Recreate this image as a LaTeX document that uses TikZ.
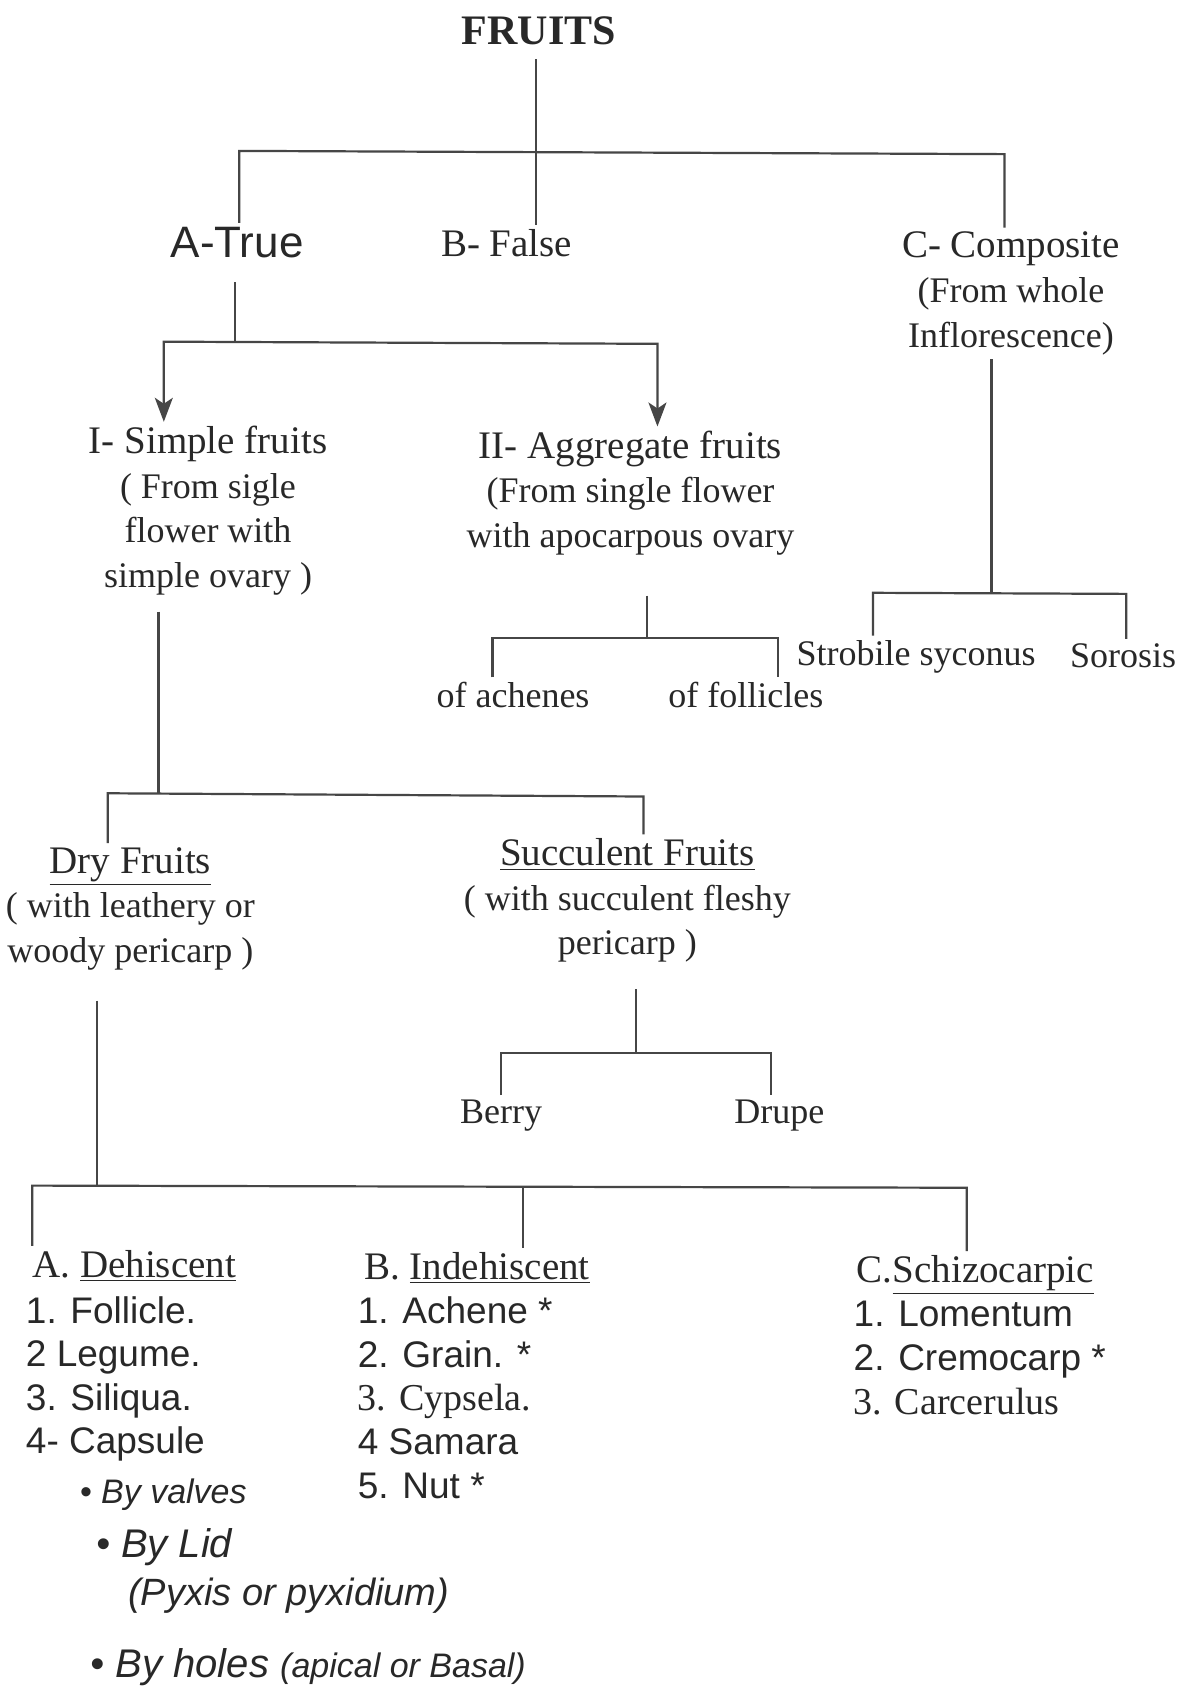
\documentclass[tikz,border=0pt]{standalone}
\usepackage{fontspec}
\setmainfont{Liberation Serif}
\newfontfamily\hw{Liberation Sans}
\usetikzlibrary{arrows.meta}
\definecolor{ink}{RGB}{40,40,40}
\definecolor{wire}{RGB}{70,70,70}
\newcommand{\hdfont}{\fontsize{19.5}{22.3}\selectfont}
\begin{document}
\begin{tikzpicture}[x=0.539pt,y=-0.539pt,
  every node/.style={inner sep=2pt, text=ink},
  link/.style={draw=wire, line width=1.1pt},
  tips/.style={link, {Stealth[length=12pt,width=9pt,inset=3pt]}-{Stealth[length=12pt,width=9pt,inset=3pt]}},
  head/.style={font=\fontsize{19.5}{22.3}\selectfont},
  body/.style={font=\fontsize{18}{22.3}\selectfont, align=center},
  hlist/.style={font=\hw\fontsize{18.5}{21.8}\selectfont, align=left},
  hnote/.style={font=\hw\itshape\fontsize{17}{20}\selectfont}
]
\useasboundingbox[fill=white] (0,0) rectangle (1102,1568);

% ---- nodes (multi-line nodes are placed by the baseline of their last line) ----
\node[anchor=base, font=\bfseries\fontsize{21}{24}\selectfont] (fruits) at (500,41) {FRUITS};
\node[anchor=base, font=\hw\fontsize{22}{26}\selectfont] (atrue) at (220,239) {A-True};
\node[anchor=base, head] (bfalse) at (470,238) {B- False};
\node[anchor=base, body] (ccomp) at (938,322) {{\hdfont C- Composite}\\(From whole\\Inflorescence)};

\node[anchor=base, body] (simple) at (193,545) {{\hdfont I- Simple fruits}\\( From sigle\\flower with\\simple ovary )};
\node[anchor=base, body] (aggr) at (585,508) {{\hdfont II- Aggregate fruits}\\(From single flower\\with apocarpous ovary};

\node[anchor=base, body] (strob) at (850,617) {Strobile syconus};
\node[anchor=base, body] (soros) at (1042,619) {Sorosis};
\node[anchor=base, body] (achen) at (476,656) {of achenes};
\node[anchor=base, body] (follic) at (692,656) {of follicles};

\node[anchor=base, body] (dry) at (121,893) {{\hdfont\underline{Dry Fruits}}\\( with leathery or\\woody pericarp )};
\node[anchor=base, body] (succ) at (582,886) {{\hdfont\underline{Succulent Fruits}}\\( with succulent fleshy\\pericarp )};
\node[anchor=base, body] (berry) at (465,1042) {Berry};
\node[anchor=base, body] (drupe) at (723,1042) {Drupe};

\node[anchor=base west, head] (dehisc) at (26,1185) {A. \underline{Dehiscent}};
\node[anchor=base west, head] (indeh) at (334,1187) {B. \underline{Indehiscent}};
\node[anchor=base west, head] (schizo) at (791,1190) {C.\underline{Schizocarpic}};

\node[anchor=base west, hlist] (alist) at (20,1349) {1. Follicle.\\2 Legume.\\3. Siliqua.\\4- Capsule};
\node[anchor=base west, hnote] (valves) at (70,1395) {• By valves};
\node[anchor=base west, hnote, font=\hw\itshape\fontsize{20}{24}\selectfont] (lid) at (85,1445) {• By Lid};
\node[anchor=base west, hnote, font=\hw\itshape\fontsize{19}{22}\selectfont] (pyx) at (115,1490) {(Pyxis or pyxidium)};
\node[anchor=base west, hnote, font=\hw\itshape\fontsize{20}{24}\selectfont] (holes) at (80,1556) {• By holes {\fontsize{17}{20}\selectfont(apical or Basal)}};

\node[anchor=base west, hlist] (blist) at (328,1390) {1. Achene *\\2. Grain. *\\{\rmfamily\fontsize{19}{21.8}\selectfont 3. Cypsela.}\\4 Samara\\5. Nut *};
\node[anchor=base west, hlist] (clist) at (788,1312) {1. Lomentum\\2. Cremocarp *\\{\rmfamily\fontsize{19}{21.8}\selectfont 3. Carcerulus}};

% ---- junction coordinates ----
\coordinate (j1) at (497,140);
\coordinate (b1l) at (222,140);
\coordinate (b1r) at (932,143);
\coordinate (j3) at (218,317);
\coordinate (b3l) at (152,317);
\coordinate (b3r) at (610,319);
\coordinate (j4) at (920,550);
\coordinate (b4l) at (810,550);
\coordinate (b4r) at (1045,551);
\coordinate (j5) at (600,592);
\coordinate (b5l) at (457,592);
\coordinate (b5r) at (722,592);
\coordinate (j6) at (147,737);
\coordinate (b6l) at (100,736);
\coordinate (b6r) at (597,739);
\coordinate (j7) at (590,977);
\coordinate (b7l) at (465,977);
\coordinate (b7r) at (715,977);
\coordinate (j8) at (90,1100);
\coordinate (b8l) at (30,1100);
\coordinate (b8m) at (485,1101);
\coordinate (b8r) at (897,1102);

% ---- connectors ----
\draw[link, shorten <=5pt] (fruits.south -| j1) -- (j1 |- bfalse.north);
\draw[link] (atrue.north -| b1l) -- (b1l) -- (b1r) -- (ccomp.north -| b1r);

\draw[link, shorten <=10pt] (atrue.south -| j3) -- (j3);
\draw[tips] (simple.north -| b3l) -- (b3l) -- (b3r) -- (aggr.north -| b3r);

\draw[link] (ccomp.south -| j4) -- (j4);
\draw[link] (strob.north -| b4l) -- (b4l) -- (b4r) -- (soros.north -| b4r);

\draw[link, shorten <=18pt] (aggr.south -| j5) -- (j5);
\draw[link] (achen.north -| b5l) -- (b5l) -- (b5r) -- (follic.north -| b5r);

\draw[link, shorten <=6pt] (simple.south -| j6) -- (j6);
\draw[link] (dry.north -| b6l) -- (b6l) -- (b6r) -- (succ.north -| b6r);

\draw[link, shorten <=11pt] (succ.south -| j7) -- (j7);
\draw[link] (berry.north -| b7l) -- (b7l) -- (b7r) -- (drupe.north -| b7r);

\draw[link, shorten <=13pt] (dry.south -| j8) -- (j8);
\draw[link] (dehisc.north -| b8l) -- (b8l) -- (b8r) -- (schizo.north -| b8r);
\draw[link] (b8m) -- (indeh.north -| b8m);
\end{tikzpicture}
\end{document}
